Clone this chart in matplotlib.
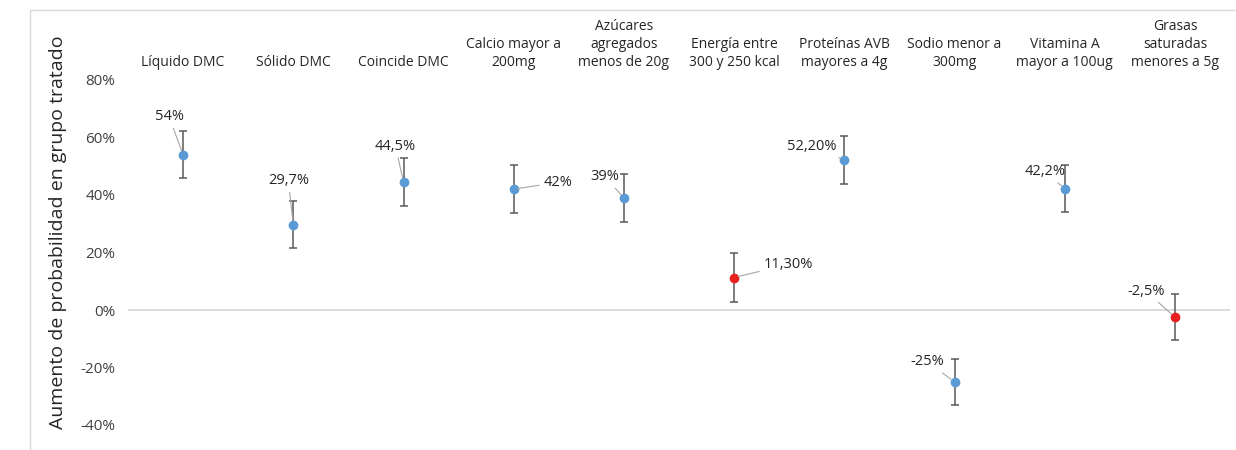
import matplotlib
matplotlib.use("Agg")
import matplotlib.pyplot as plt
import numpy as np

categorias = ["Líquido DMC", "Sólido DMC", "Coincide DMC", "Calcio mayor a\n200mg",
              "Azúcares\nagregados\nmenos de 20g", "Energía entre\n300 y 250 kcal",
              "Proteínas AVB\nmayores a 4g", "Sodio menor a\n300mg", "Vitamina A\nmayor a 100ug",
              "Grasas\nsaturadas\nmenores a 5g"]
valores = [54.0, 29.7, 44.5, 42.0, 39.0, 11.3, 52.2, -25.0, 42.2, -2.5]
errores = [8.2, 8.3, 8.4, 8.3, 8.3, 8.4, 8.3, 8.1, 8.2, 8.1]
etiquetas = ["54%", "29,7%", "44,5%", "42%", "39%", "11,30%", "52,20%", "-25%", "42,2%", "-2,5%"]
significativo = [True, True, True, True, True, False, True, True, True, False]
yticks = [-40, -20, 0, 20, 40, 60, 80]
ytick_labels = ["-40%", "-20%", "0%", "20%", "40%", "60%", "80%"]

# label offsets in pixels (dx, dy)
offsets = [(-14, 38), (-5, 44), (-8, 36), (44, 7), (-19, 21), (54, 13),
           (-33, 13), (-27, 20), (-20, 17), (-29, 26)]

plt.rcParams['font.family'] = ['Open Sans', 'DejaVu Sans']

W, H = 1236, 450
fig = plt.figure(figsize=(W / 100, H / 100), dpi=100)
ax = fig.add_axes([128 / W, 1 - 425 / H, (1230 - 128) / W, (425 - 80) / H])

x = np.arange(len(categorias))
azul = "#5B9BD5"
rojo = "#E8201F"
colores = [azul if s else rojo for s in significativo]

ax.axhline(0, color="#D9D9D9", lw=1.3, zorder=1)

for xi, v, e, c in zip(x, valores, errores, colores):
    ax.errorbar(xi, v, yerr=e, fmt='o', color=c, ms=6, mec=c,
                ecolor="#595959", elinewidth=1.1, capsize=3, capthick=1.1, zorder=3)

for xi, v, lab, (dx, dy) in zip(x, valores, etiquetas, offsets):
    ax.annotate(lab, xy=(xi, v), xytext=(dx, dy), textcoords='offset pixels',
                ha='center', va='center', fontsize=10.5, color="#262626",
                arrowprops=dict(arrowstyle='-', color="#A6A6A6", lw=0.8,
                                shrinkA=1, shrinkB=3), zorder=4)

ax.set_xlim(-0.5, len(categorias) - 0.5)
ax.set_ylim(-40, 80)
ax.set_yticks(yticks)
ax.set_yticklabels(ytick_labels, fontsize=11, color="#404040")
ax.set_xticks([])
ax.tick_params(axis='y', length=0, pad=9)
for s in ax.spines.values():
    s.set_visible(False)

fig.text(58 / W, 1 - 232 / H, "Aumento de probabilidad en grupo tratado", fontsize=14,
         color="#262626", rotation=90, ha='center', va='center')

for xi, cat in zip(x, categorias):
    ax.text(xi, 1 + 10 / (425 - 80), cat, transform=ax.get_xaxis_transform(),
            ha='center', va='bottom', fontsize=10, color="#262626", linespacing=1.25,
            multialignment='center')

# outer chart frame
fig.add_artist(plt.Line2D([30 / W, 1], [1 - 10 / H, 1 - 10 / H], color="#D9D9D9", lw=1))
fig.add_artist(plt.Line2D([30 / W, 30 / W], [0, 1 - 10 / H], color="#D9D9D9", lw=1))

fig.savefig("out.png", dpi=100)
